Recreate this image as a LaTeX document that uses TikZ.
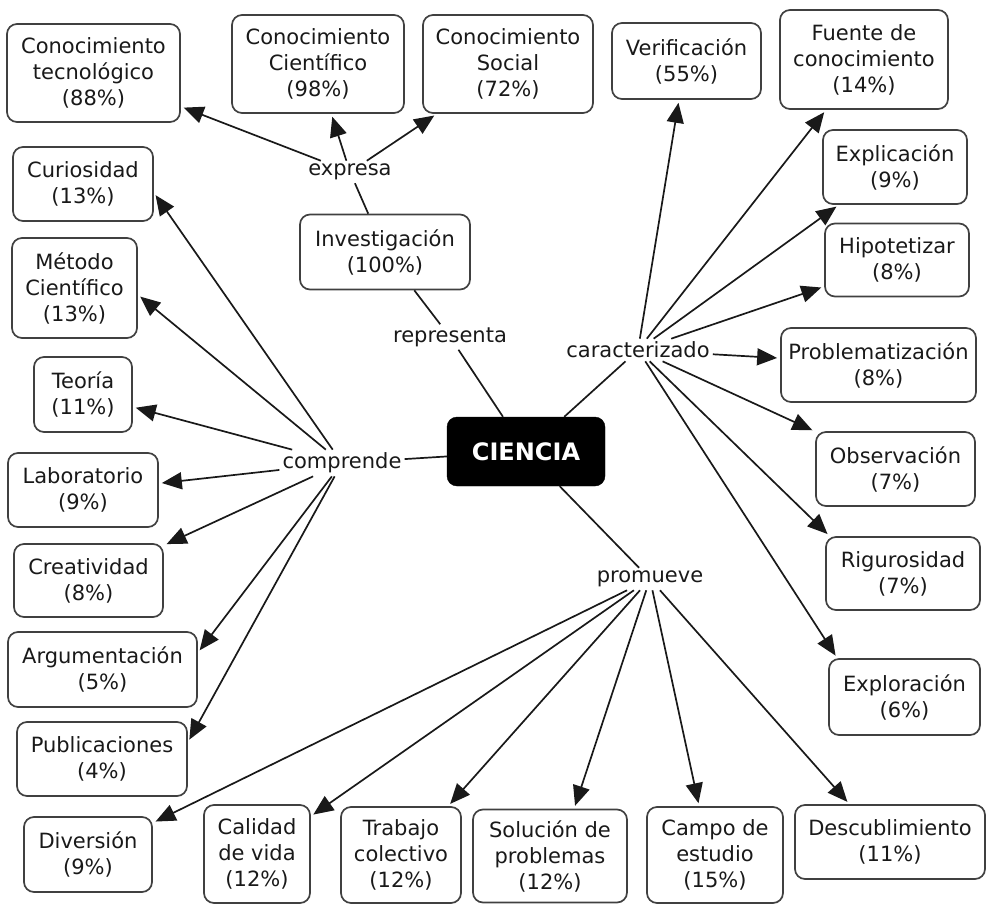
\documentclass[tikz,border=0pt]{standalone}
\usepackage{fontspec}
\setmainfont{DejaVu Sans}
\usetikzlibrary{arrows.meta}
\begin{document}
\begin{tikzpicture}[x=1pt,y=-1pt,
  every node/.style={font=\fontsize{21}{26}\selectfont, text=black!90},
  bx/.style 2 args={draw=black!75, line width=1.7pt, rounded corners=10pt, minimum width=#1, minimum height=#2, align=center, inner sep=2pt},
  lbl/.style={inner sep=3pt},
  ln/.style={draw=black!90, line width=1.7pt},
  arr/.style={ln, -{Triangle[length=20pt,width=17pt]}, shorten >=3pt},
]
\useasboundingbox (0,0) rectangle (986,905);

% concept boxes
\node[bx={173pt}{98pt}] (ctec) at (93.5,73) {Conocimiento\\tecnológico\\(88\%)};
\node[bx={172pt}{98pt}] (ccie) at (318,64) {Conocimiento\\Científico\\(98\%)};
\node[bx={170pt}{98pt}] (csoc) at (508,64) {Conocimiento\\Social\\(72\%)};
\node[bx={149pt}{76pt}] (ver) at (686.5,61) {Verificación\\(55\%)};
\node[bx={168pt}{99pt}] (fue) at (864,59.5) {Fuente de\\conocimiento\\(14\%)};
\node[bx={144pt}{74pt}] (exl) at (895,167) {Explicación\\(9\%)};
\node[bx={144pt}{73pt}] (hip) at (897,260) {Hipotetizar\\(8\%)};
\node[bx={195pt}{74pt}] (pro) at (878.5,365) {Problematización\\(8\%)};
\node[bx={159pt}{74pt}] (obs) at (895.5,469) {Observación\\(7\%)};
\node[bx={154pt}{73pt}] (rig) at (903,573.5) {Rigurosidad\\(7\%)};
\node[bx={151pt}{76pt}] (expl) at (904.5,697) {Exploración\\(6\%)};
\node[bx={190pt}{74pt}] (des) at (890,842) {Descublimiento\\(11\%)};
\node[bx={136pt}{96pt}] (cam) at (715,855) {Campo de\\estudio\\(15\%)};
\node[bx={154pt}{93pt}] (sol) at (550,856) {Solución de\\problemas\\(12\%)};
\node[bx={120pt}{96pt}] (tra) at (401,855) {Trabajo\\colectivo\\(12\%)};
\node[bx={106pt}{98pt}] (cal) at (257,854) {Calidad\\de vida\\(12\%)};
\node[bx={128pt}{75pt}] (div) at (88,854.5) {Diversión\\(9\%)};
\node[bx={170pt}{74pt}] (pub) at (102,759) {Publicaciones\\(4\%)};
\node[bx={189pt}{75pt}] (arg) at (102.5,669.5) {Argumentación\\(5\%)};
\node[bx={149pt}{73pt}] (cre) at (88.5,580.5) {Creatividad\\(8\%)};
\node[bx={150pt}{74pt}] (lab) at (83,490) {Laboratorio\\(9\%)};
\node[bx={98pt}{75pt}] (teo) at (83,394.5) {Teoría\\(11\%)};
\node[bx={125pt}{100pt}] (met) at (74.5,288) {Método\\Científico\\(13\%)};
\node[bx={140pt}{74pt}] (cur) at (83,184) {Curiosidad\\(13\%)};
\node[bx={170pt}{75pt}] (inv) at (385,252) {Investigación\\(100\%)};
\node[draw=black, fill=black, rounded corners=10pt, minimum width=158pt, minimum height=69pt, text=white, font=\fontsize{24}{28}\selectfont\bfseries] (cie) at (526,451.5) {CIENCIA};

% linking phrases
\node[lbl] (exp) at (350,172) {expresa};
\node[lbl] (rep) at (450,337) {representa};
\node[lbl] (comp) at (342,463) {comprende};
\node[lbl] (car) at (638,350) {caracterizado};
\node[lbl] (prom) at (650,579) {promueve};

% plain links
\draw[ln] (inv) -- (exp);
\draw[ln] (inv) -- (rep);
\draw[ln] (rep) -- (cie);
\draw[ln] (comp) -- (cie);
\draw[ln] (cie) -- (car);
\draw[ln] (cie) -- (prom);

% expresa
\draw[arr] (exp) -- (ctec.-21);
\draw[arr] (exp) -- (ccie.-75);
\draw[arr] (exp) -- (csoc.-145);

% comprende
\draw[arr] (comp) -- (cur.-7);
\draw[arr] (comp) -- (met.-6);
\draw[arr] (comp) -- (teo.-14);
\draw[arr] (comp) -- (lab.5);
\draw[arr] (comp) -- (cre.25);
\draw[arr] (comp) -- (arg.10);
\draw[arr] (comp) -- (pub.11);

% caracterizado
\draw[arr] (car) -- (ver.-101);
\draw[arr] (car) -- (fue.-127);
\draw[arr] (car) -- (exl.-146);
\draw[arr] (car) -- (hip.-160);
\draw[arr] (car) -- (pro.176);
\draw[arr] (car) -- (obs.155);
\draw[arr] (car) -- (rig.153);
\draw[arr] (car) -- (expl.150);

% promueve
\draw[arr] (prom) -- (div.26);
\draw[arr] (prom) -- (cal.35);
\draw[arr] (prom) -- (tra.46);
\draw[arr] (prom) -- (sol.63);
\draw[arr] (prom) -- (cam.108);
\draw[arr] (prom) -- (des.137);
\end{tikzpicture}
\end{document}
